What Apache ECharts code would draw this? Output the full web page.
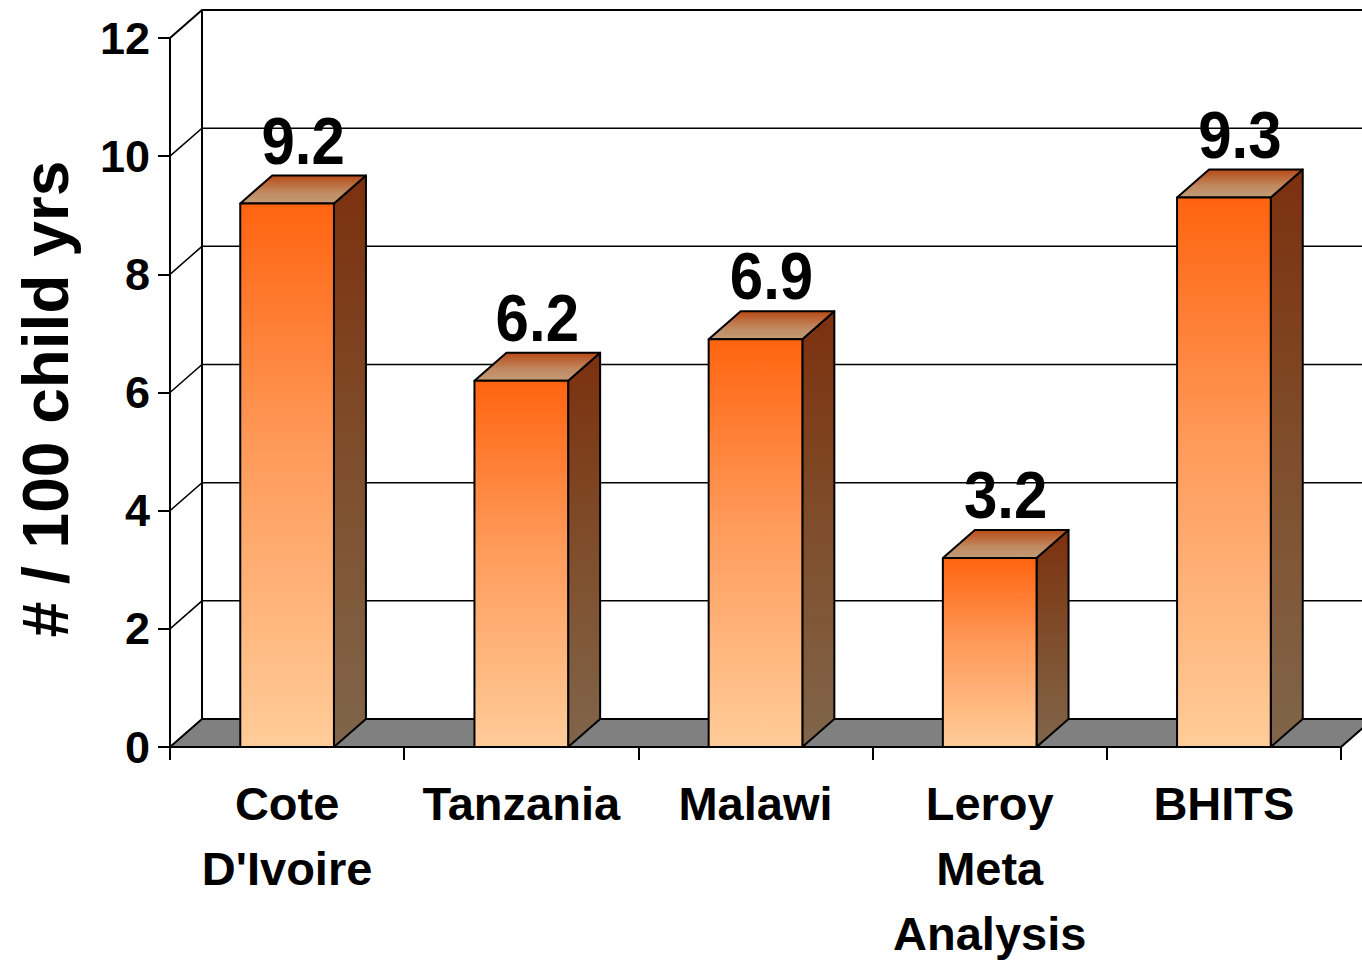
<!DOCTYPE html>
<html>
<head>
<meta charset="utf-8">
<style>
  html, body { margin: 0; padding: 0; background: #fff; }
  #chart { width: 1362px; height: 966px; }
</style>
<script src="https://cdn.jsdelivr.net/npm/echarts@6/dist/echarts.min.js"></script>
</head>
<body>
<div id="chart"></div>
<script>
// Incidence per 100 child-years, by study
const categories = ["Cote\nD'Ivoire", "Tanzania", "Malawi", "Leroy\nMeta\nAnalysis", "BHITS"];
const values = [9.2, 6.2, 6.9, 3.2, 9.3];
const yTicks = [0, 2, 4, 6, 8, 10, 12];
const yTitle = '# / 100 child yrs';

// Pseudo-3D depth offset of the back wall (pixels)
const DX = 32;
const DY = -28;
const FONT = "'Liberation Sans', Arial, Helvetica, sans-serif";
const BAR_RATIO = 0.4;

const chart = echarts.init(document.getElementById('chart'), null, { renderer: 'svg' });

// Floor, back wall, left wall guide lines
function renderFrame(params, api) {
  const cs = params.coordSys;
  const left = cs.x;
  const right = cs.x + cs.width;
  const y0 = api.coord([0, 0])[1];
  const yTop = api.coord([0, yTicks[yTicks.length - 1]])[1];
  const children = [];
  yTicks.forEach(function (v) {
    if (v === 0) return;
    const y = api.coord([0, v])[1];
    children.push({
      type: 'polyline',
      shape: { points: [[left, y], [left + DX, y + DY], [right + DX + 40, y + DY]] },
      style: { stroke: '#000', lineWidth: v === yTicks[yTicks.length - 1] ? 2 : 1.5, fill: null }
    });
  });
  children.push({
    type: 'polygon',
    shape: { points: [[left, y0], [right, y0], [right + DX, y0 + DY], [left + DX, y0 + DY]] },
    style: { fill: '#808080', stroke: '#000', lineWidth: 2 }
  });
  children.push({
    type: 'line',
    shape: { x1: left + DX, y1: y0 + DY, x2: left + DX, y2: yTop + DY },
    style: { stroke: '#000', lineWidth: 2 }
  });
  children.push({
    type: 'line',
    shape: { x1: left + DX, y1: y0 + DY, x2: right + DX + 40, y2: y0 + DY },
    style: { stroke: '#000', lineWidth: 2 }
  });
  return { type: 'group', children: children };
}

// One 3D box per category: front face, side face, top face and value label
function renderBar(params, api) {
  const idx = api.value(0);
  const val = api.value(1);
  const topPt = api.coord([idx, val]);
  const basePt = api.coord([idx, 0]);
  const w = api.size([1, 0])[0] * BAR_RATIO;
  const xl = topPt[0] - w / 2;
  const xr = topPt[0] + w / 2;
  const yt = topPt[1];
  const yb = basePt[1];
  const edge = { stroke: '#000', lineWidth: 2, lineJoin: 'round' };

  const frontFill = new echarts.graphic.LinearGradient(0, 0, 0, 1, [
    { offset: 0, color: '#ff6410' },
    { offset: 0.45, color: '#ff9a5a' },
    { offset: 1, color: '#ffcc99' }
  ]);
  const sideFill = new echarts.graphic.LinearGradient(0, 0, 0, 1, [
    { offset: 0, color: '#7c300e' },
    { offset: 0.5, color: '#7f4e2c' },
    { offset: 1, color: '#80654a' }
  ]);
  const topFill = new echarts.graphic.LinearGradient(0, 0, 0, 1, [
    { offset: 0, color: '#b84a16' },
    { offset: 0.6, color: '#c08a62' },
    { offset: 1, color: '#c29c76' }
  ]);

  return {
    type: 'group',
    children: [
      {
        type: 'polygon',
        shape: { points: [[xr, yt], [xr + DX, yt + DY], [xr + DX, yb + DY], [xr, yb]] },
        style: Object.assign({ fill: sideFill }, edge)
      },
      {
        type: 'polygon',
        shape: { points: [[xl, yt], [xl + DX, yt + DY], [xr + DX, yt + DY], [xr, yt]] },
        style: Object.assign({ fill: topFill }, edge)
      },
      {
        type: 'rect',
        shape: { x: xl, y: yt, width: w, height: yb - yt },
        style: Object.assign({ fill: frontFill }, edge)
      },
      {
        type: 'text',
        x: topPt[0] + DX / 2,
        y: yt + DY - 2,
        scaleY: 1.12,
        style: {
          text: val.toFixed(1),
          fill: '#000',
          font: 'bold 60px ' + FONT,
          align: 'center',
          verticalAlign: 'bottom'
        }
      }
    ]
  };
}

const option = {
  backgroundColor: '#fff',
  animation: false,
  grid: { left: 170, right: 21, top: 38, bottom: 216, containLabel: false },
  xAxis: {
    type: 'category',
    data: categories,
    boundaryGap: true,
    axisLine: { show: true, lineStyle: { color: '#000', width: 2 } },
    axisTick: { show: true, length: 13, lineStyle: { color: '#000', width: 2 } },
    axisLabel: {
      interval: 0,
      color: '#000',
      fontSize: 47,
      fontWeight: 'bold',
      fontFamily: FONT,
      lineHeight: 65,
      margin: 24
    },
    splitLine: { show: false }
  },
  yAxis: {
    type: 'value',
    min: 0,
    max: 12,
    interval: 2,
    axisLine: { show: true, lineStyle: { color: '#000', width: 2 } },
    axisTick: { show: true, length: 12, lineStyle: { color: '#000', width: 2 } },
    axisLabel: {
      color: '#000',
      fontSize: 45,
      fontWeight: 'bold',
      fontFamily: FONT,
      margin: 20
    },
    splitLine: { show: false }
  },
  graphic: [
    {
      type: 'text',
      x: 46,
      y: 399,
      rotation: Math.PI / 2,
      style: {
        text: yTitle,
        fill: '#000',
        font: 'bold 64px ' + FONT,
        align: 'center',
        verticalAlign: 'middle'
      }
    }
  ],
  series: [
    {
      type: 'custom',
      z: 1,
      silent: true,
      renderItem: renderFrame,
      data: [[0, 0]]
    },
    {
      type: 'custom',
      z: 3,
      renderItem: renderBar,
      data: values.map(function (v, i) { return [i, v]; })
    }
  ]
};

chart.setOption(option);
</script>
</body>
</html>
